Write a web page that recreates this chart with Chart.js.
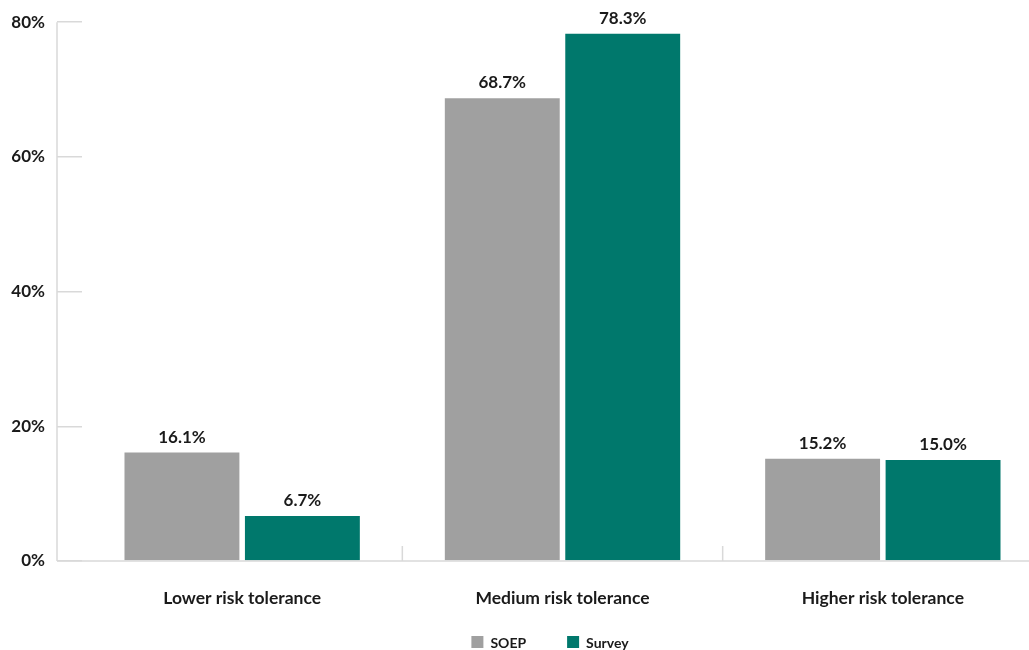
<!DOCTYPE html>
<html>
<head>
<meta charset="utf-8">
<script src="https://cdn.jsdelivr.net/npm/chart.js@4.4.1/dist/chart.umd.min.js"></script>
<style>
  html, body { margin: 0; padding: 0; background: #fff; overflow: hidden; }
  #wrap { width: 1060px; height: 650px; }
</style>
</head>
<body>
<div id="wrap"><canvas id="chartRisk"></canvas></div>
<script>
const categories = ["Lower risk tolerance", "Medium risk tolerance", "Higher risk tolerance"];
const soepValues = [16.1, 68.7, 15.2];
const surveyValues = [6.7, 78.3, 15.0];
const seriesNames = ["SOEP", "Survey"];
const yTicks = [0, 20, 40, 60, 80];

Chart.defaults.font.family = "'Lato', sans-serif";
Chart.defaults.font.weight = "bold";
Chart.defaults.color = "#1a1a1a";

const axisColor = "#d9d9d9";
const axisOffset = 25;

// axis lines: y line sits left of the plot, ticks point inward
const axisLines = {
    id: "axisLines",
    afterDatasetsDraw(chart) {
        const { ctx, chartArea, scales } = chart;
        const x0 = chartArea.left - axisOffset;
        const yTop = scales.y.getPixelForValue(yTicks[yTicks.length - 1]);
        const yBot = scales.y.getPixelForValue(0);
        ctx.save();
        ctx.strokeStyle = axisColor;
        ctx.lineWidth = 1.5;
        ctx.beginPath();
        ctx.moveTo(x0, yTop);
        ctx.lineTo(x0, yBot);
        ctx.moveTo(x0, yBot);
        ctx.lineTo(chart.width, yBot);
        for (let i = 0; i < categories.length - 1; i++) {
            const xb = (scales.x.getPixelForValue(i) + scales.x.getPixelForValue(i + 1)) / 2;
            ctx.moveTo(xb, yBot);
            ctx.lineTo(xb, yBot - 15);
        }
        ctx.stroke();
        ctx.restore();
    }
};

const barLabels = {
    id: "barLabels",
    afterDatasetsDraw(chart) {
        const { ctx } = chart;
        ctx.save();
        ctx.font = "bold 17px 'Lato', sans-serif";
        ctx.fillStyle = "#1a1a1a";
        ctx.textAlign = "center";
        ctx.textBaseline = "bottom";
        chart.data.datasets.forEach((ds, di) => {
            chart.getDatasetMeta(di).data.forEach((bar, i) => {
                ctx.fillText(ds.data[i].toFixed(1) + "%", bar.x, bar.y - 7);
            });
        });
        ctx.restore();
    }
};

// legend drawn by hand: wide gap between items but sitting at the very bottom
const bottomLegend = {
    id: "bottomLegend",
    afterDraw(chart) {
        const { ctx, chartArea } = chart;
        const box = 12, boxGap = 7, itemGap = 41;
        ctx.save();
        ctx.font = "bold 14px 'Lato', sans-serif";
        ctx.textBaseline = "middle";
        const items = chart.data.datasets.map(ds => ({
            text: ds.label, color: ds.backgroundColor, w: box + boxGap + ctx.measureText(ds.label).width
        }));
        const total = items.reduce((s, it) => s + it.w, 0) + itemGap * (items.length - 1);
        let x = (chartArea.left - axisOffset + chartArea.right) / 2 - total / 2;
        const y = 642;
        items.forEach(it => {
            ctx.fillStyle = it.color;
            ctx.fillRect(x, y - box / 2, box, box);
            ctx.fillStyle = "#1a1a1a";
            ctx.fillText(it.text, x + box + boxGap, y + 1);
            x += it.w + itemGap;
        });
        ctx.restore();
    }
};

new Chart(document.getElementById("chartRisk"), {
    type: "bar",
    data: {
        labels: categories,
        datasets: [
            { label: seriesNames[0], data: soepValues, backgroundColor: "#a0a0a0" },
            { label: seriesNames[1], data: surveyValues, backgroundColor: "#00786c" }
        ]
    },
    options: {
        responsive: true,
        maintainAspectRatio: false,
        animation: false,
        categoryPercentage: 0.752,
        barPercentage: 0.954,
        layout: { padding: { left: 10, right: 17, top: 12, bottom: 14 } },
        plugins: {
            legend: { display: false },
            tooltip: { enabled: false }
        },
        scales: {
            x: {
                grid: { display: false, drawTicks: false },
                border: { display: false },
                ticks: { padding: 27, font: { size: 17.5, weight: "bold" } }
            },
            y: {
                min: 0,
                max: 80,
                afterBuildTicks(scale) { scale.ticks = yTicks.map(v => ({ value: v })); },
                afterFit(scale) { scale.width = 72; },
                grid: { drawOnChartArea: false, color: axisColor, lineWidth: 1.5, tickLength: axisOffset },
                border: { display: false },
                ticks: { padding: 12, font: { size: 17, weight: "bold" }, callback: v => v + "%" }
            }
        }
    },
    plugins: [axisLines, barLabels, bottomLegend]
});
</script>
</body>
</html>
